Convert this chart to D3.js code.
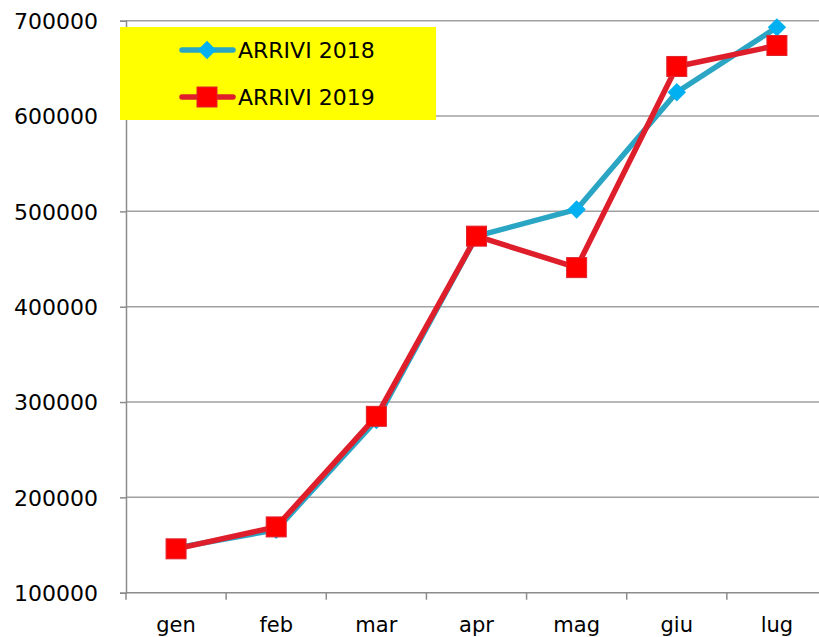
<!DOCTYPE html>
<html>
<head>
<meta charset="utf-8">
<script src="https://cdn.jsdelivr.net/npm/d3@7"></script>
<style>
  body { margin: 0; background: #fff; }
  svg text { font-family: "DejaVu Sans", sans-serif; fill: #000; }
</style>
</head>
<body>
<div id="chart"></div>
<script>
const months = ["gen", "feb", "mar", "apr", "mag", "giu", "lug"];
const arrivi2018 = [147000, 166000, 281000, 474000, 502000, 625000, 693000];
const arrivi2019 = [146000, 169000, 285000, 474000, 441000, 652000, 674000];
const yTicks = [100000, 200000, 300000, 400000, 500000, 600000, 700000];

(() => {
    const width = 819, height = 637;
    const left = 126, right = 827, top = 20.7, bottom = 592.7;

    const svg = d3.select("#chart").append("svg")
        .attr("width", width)
        .attr("height", height);

    const x = d3.scaleBand().domain(months).range([left, right]);
    const y = d3.scaleLinear().domain([100000, 700000]).range([bottom, top]);

    // gridlines
    svg.append("g")
        .selectAll("line")
        .data(yTicks.slice(1))
        .enter().append("line")
        .attr("x1", left).attr("x2", right)
        .attr("y1", d => y(d)).attr("y2", d => y(d))
        .attr("stroke", "#a0a0a0")
        .attr("stroke-width", 1.5);

    // y axis
    const yAxis = svg.append("g")
        .attr("transform", `translate(${left},0)`)
        .call(d3.axisLeft(y).tickValues(yTicks).tickSize(6).tickPadding(22).tickFormat(d3.format("d")));
    yAxis.selectAll("path, line").attr("stroke", "#8c8c8c").attr("stroke-width", 1.5);
    yAxis.selectAll("text").style("font-size", "22px").attr("dy", "0.36em");

    // x axis (ticks at band edges)
    const xAxis = svg.append("g").attr("transform", `translate(0,${bottom})`);
    xAxis.append("line")
        .attr("x1", left).attr("x2", right)
        .attr("stroke", "#8c8c8c").attr("stroke-width", 1.5);
    xAxis.selectAll(".tk")
        .data(months)
        .enter().append("line")
        .attr("class", "tk")
        .attr("x1", d => x(d)).attr("x2", d => x(d))
        .attr("y1", 0).attr("y2", 7)
        .attr("stroke", "#8c8c8c").attr("stroke-width", 1.5);
    xAxis.selectAll("text")
        .data(months)
        .enter().append("text")
        .attr("x", d => x(d) + x.bandwidth() / 2)
        .attr("y", 39)
        .attr("text-anchor", "middle")
        .style("font-size", "21px")
        .text(d => d);

    const cx = d => x(d) + x.bandwidth() / 2;
    const line = d3.line().x(d => cx(d[0])).y(d => y(d[1]));

    const series = [
        { name: "ARRIVI 2018", values: arrivi2018, stroke: "#2ba5c4", fill: "#00b0f0", shape: "diamond" },
        { name: "ARRIVI 2019", values: arrivi2019, stroke: "#de1f2b", fill: "#ff0000", shape: "square" }
    ];

    const marker = (g, s) => {
        if (s.shape === "diamond") {
            g.append("rect")
                .attr("x", -6.5).attr("y", -6.5).attr("width", 13).attr("height", 13)
                .attr("transform", "rotate(45)")
                .attr("fill", s.fill);
        } else {
            g.append("rect")
                .attr("x", -10).attr("y", -10).attr("width", 20).attr("height", 20)
                .attr("fill", s.fill)
                .attr("stroke", "#e0222c").attr("stroke-width", 1);
        }
    };

    series.forEach(s => {
        const pts = months.map((m, i) => [m, s.values[i]]);
        svg.append("path")
            .datum(pts)
            .attr("d", line)
            .attr("fill", "none")
            .attr("stroke", s.stroke)
            .attr("stroke-width", 5.5)
            .attr("stroke-linejoin", "round");
        pts.forEach(p => {
            const g = svg.append("g").attr("transform", `translate(${cx(p[0])},${y(p[1])})`);
            marker(g, s);
        });
    });

    // legend
    const legend = svg.append("g");
    legend.append("rect")
        .attr("x", 120).attr("y", 27).attr("width", 316).attr("height", 93)
        .attr("fill", "#ffff00");
    series.forEach((s, i) => {
        const ly = 50 + i * 47;
        legend.append("line")
            .attr("x1", 182).attr("x2", 233)
            .attr("y1", ly).attr("y2", ly)
            .attr("stroke", s.stroke).attr("stroke-width", 5.5)
            .attr("stroke-linecap", "round");
        marker(legend.append("g").attr("transform", `translate(207,${ly})`), s);
        legend.append("text")
            .attr("x", 238).attr("y", ly + 8)
            .style("font-size", "22px")
            .text(s.name);
    });
})();
</script>
</body>
</html>
